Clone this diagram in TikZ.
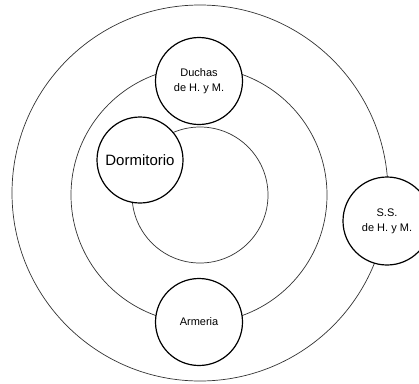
\documentclass[tikz,border=0pt]{standalone}
\usepackage{fontspec}
\setmainfont{Liberation Sans}
\begin{document}
\begin{tikzpicture}[x=1pt,y=-1pt,
  ring/.style={circle, draw=black!80, line width=0.7pt, inner sep=0pt},
  room/.style={circle, draw=black, line width=1.2pt, fill=white, inner sep=0pt, minimum size=87pt, align=center, font=\fontsize{11}{15}\selectfont}
]
\useasboundingbox (0,0) rectangle (419,383);
\fill[white] (0,0) rectangle (419,383);
\node[ring, minimum size=376pt] (outer) at (200,193) {};
\node[ring, minimum size=256pt] (middle) at (199,195) {};
\node[ring, minimum size=136pt] (inner) at (200,195) {};
\node[room] (duchas) at (199,81) {Duchas\\de H. y M.};
\node[room, minimum size=86pt, font=\fontsize{15}{18}\selectfont] (dorm) at (140,160) {Dormitorio};
\node[room, minimum size=88pt] (ss) at (387,221) {S.S.\\de H. y M.};
\node[room] (armeria) at (199,322) {Armeria};
\end{tikzpicture}
\end{document}
